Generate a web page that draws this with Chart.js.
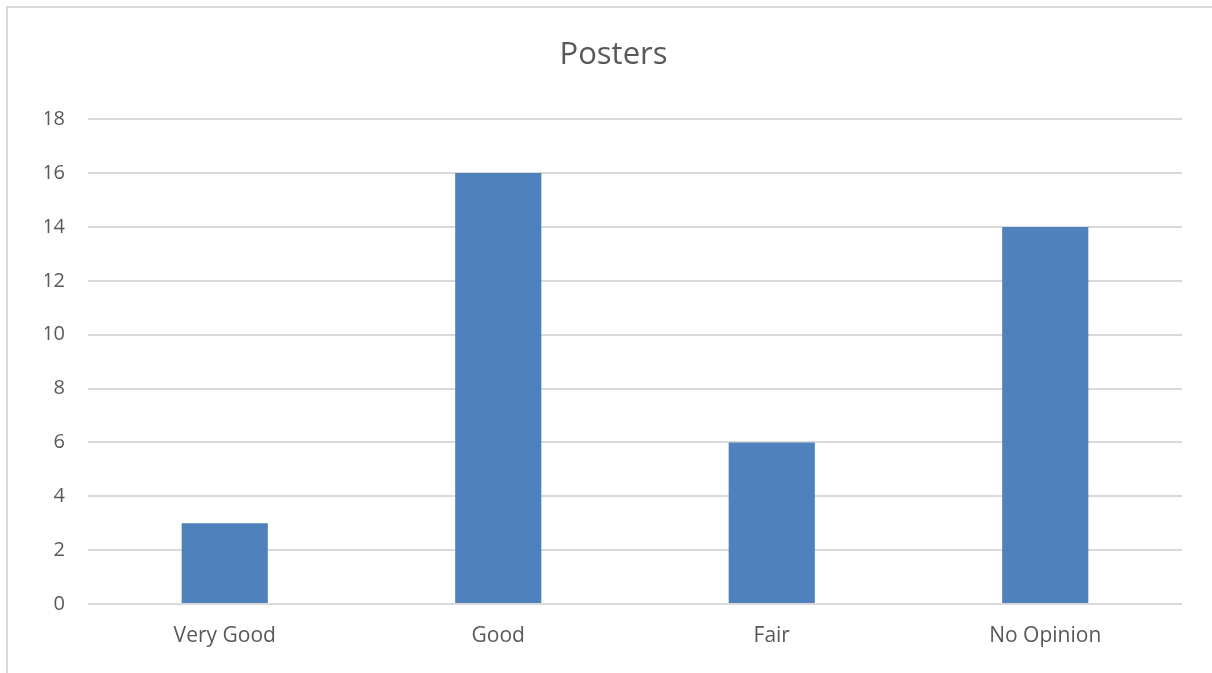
<!DOCTYPE html>
<html>
<head>
<meta charset="utf-8">
<script src="https://cdn.jsdelivr.net/npm/chart.js@4"></script>
<style>
html,body{margin:0;padding:0;background:#fff;overflow:hidden;}
#wrap{position:relative;width:1212px;height:673px;overflow:hidden;}
#frame{position:absolute;left:6px;top:6px;width:1206px;height:667px;border-top:2px solid #d9d9d9;border-left:2px solid #d9d9d9;box-sizing:border-box;}
canvas{position:absolute;left:0;top:0;}
</style>
</head>
<body>
<div id="wrap">
<div id="frame"></div>
<canvas id="c" width="1212" height="673"></canvas>
</div>
<script>
const categories = ["Very Good", "Good", "Fair", "No Opinion"];
const values = [3, 16, 6, 14];
const titleText = "Posters";

const ctx = document.getElementById('c');
new Chart(ctx, {
  type: 'bar',
  data: {
    labels: categories,
    datasets: [{
      data: values,
      backgroundColor: '#4f81bd',
      barPercentage: 0.63,
      categoryPercentage: 0.5
    }]
  },
  options: {
    responsive: false,
    animation: false,
    layout: { padding: { left: 45, right: 30, top: 0, bottom: 0 } },
    plugins: {
      legend: { display: false },
      tooltip: { enabled: false },
      title: {
        display: true,
        text: titleText,
        color: '#595959',
        font: { family: 'Open Sans', size: 31, weight: 'normal' },
        padding: { top: 37, bottom: 45 },
        lineHeight: 1.2
      }
    },
    scales: {
      x: {
        grid: { display: false, drawTicks: false },
        border: { display: false },
        ticks: { color: '#595959', font: { family: 'Open Sans', size: 21 }, padding: 19, maxRotation: 0 },
        afterFit: (s) => { s.height = 69; }
      },
      y: {
        min: 0, max: 18,
        ticks: { stepSize: 2, color: '#595959', font: { family: 'Open Sans', size: 20 }, padding: 23 },
        grid: { color: '#d9d9d9', lineWidth: 2, drawTicks: false },
        border: { display: false },
        afterFit: (s) => { s.width = 43; }
      }
    }
  }
});
</script>
</body>
</html>
